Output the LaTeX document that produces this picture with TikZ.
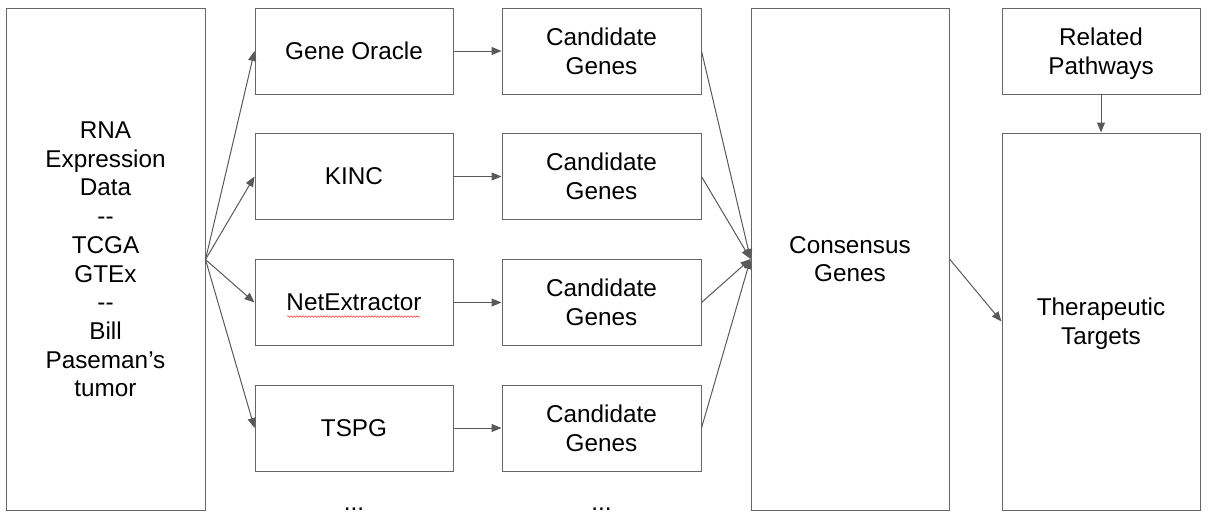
\documentclass[tikz,border=0pt]{standalone}
\usepackage{fontspec}
\setmainfont{Liberation Sans}
\usetikzlibrary{arrows.meta,decorations.pathmorphing}
\definecolor{boxgray}{RGB}{102,102,102}
\definecolor{arrowgray}{RGB}{89,89,89}
% last line without descender depth
\newcommand{\nodescent}[1]{\raisebox{0pt}[\height][0pt]{#1}}
\tikzset{
	box/.style = {draw = boxgray, line width = 1pt, minimum width = 198pt, minimum height = 86pt,
		inner sep = 0pt, align = center, font = \fontsize{24.3}{28.7}\selectfont},
	link/.style = {draw = arrowgray, line width = 1pt, -{Triangle[length = 10pt, width = 8pt]}},
	dots/.style = {anchor = base, inner sep = 0pt, font = \fontsize{24.3}{28.7}\selectfont}
}
\begin{document}
\begin{tikzpicture}[x = 1pt, y = -1pt]
	\useasboundingbox (0,0) rectangle (1210,520);
	
	% input data
	\node[box, minimum width = 199pt, minimum height = 502pt] (rna) at (105.5, 259.5)
		{RNA\\Expression\\Data\\-{}-\\TCGA\\GTEx\\-{}-\\Bill\\Paseman’s\\tumor};
	
	% consensus and targets
	\node[box, minimum height = 502pt] (cons) at (850, 259) {Consensus\\Genes};
	\node[box] (path) at (1101, 51) {Related\\\nodescent{Pathways}};
	\node[box, minimum height = 377pt] (ther) at (1101, 321.5) {Therapeutic\\\nodescent{Targets}};
	
	% methods
	\foreach \i/\name/\y in {1/Gene Oracle/51, 2/KINC/176.5, 3/NetExtractor/302.5, 4/TSPG/428} {
		\node[box] (tool\i) at (354, \y) {\name};
		\node[box, minimum width = 199pt] (cand\i) at (601.5, \y) {Candidate\\Genes};
		\draw[link] (rna.east) -- (tool\i.west);
		\draw[link] (tool\i) -- (cand\i);
		\draw[link] (cand\i.east) -- (cons.west);
	}
	
	\draw[link] (cons.east) -- (ther.west);
	\draw[link] (path) -- (ther);
	
	% spell check mark
	\draw[red!80, line width = 0.5pt, decorate, decoration = {snake, amplitude = 0.8pt, segment length = 3pt}]
		(287, 316.5) -- (420, 316.5);
	
	\node[dots] (more1) at (354, 510) {...};
	\node[dots] (more2) at (601.5, 510) {...};
\end{tikzpicture}
\end{document}
